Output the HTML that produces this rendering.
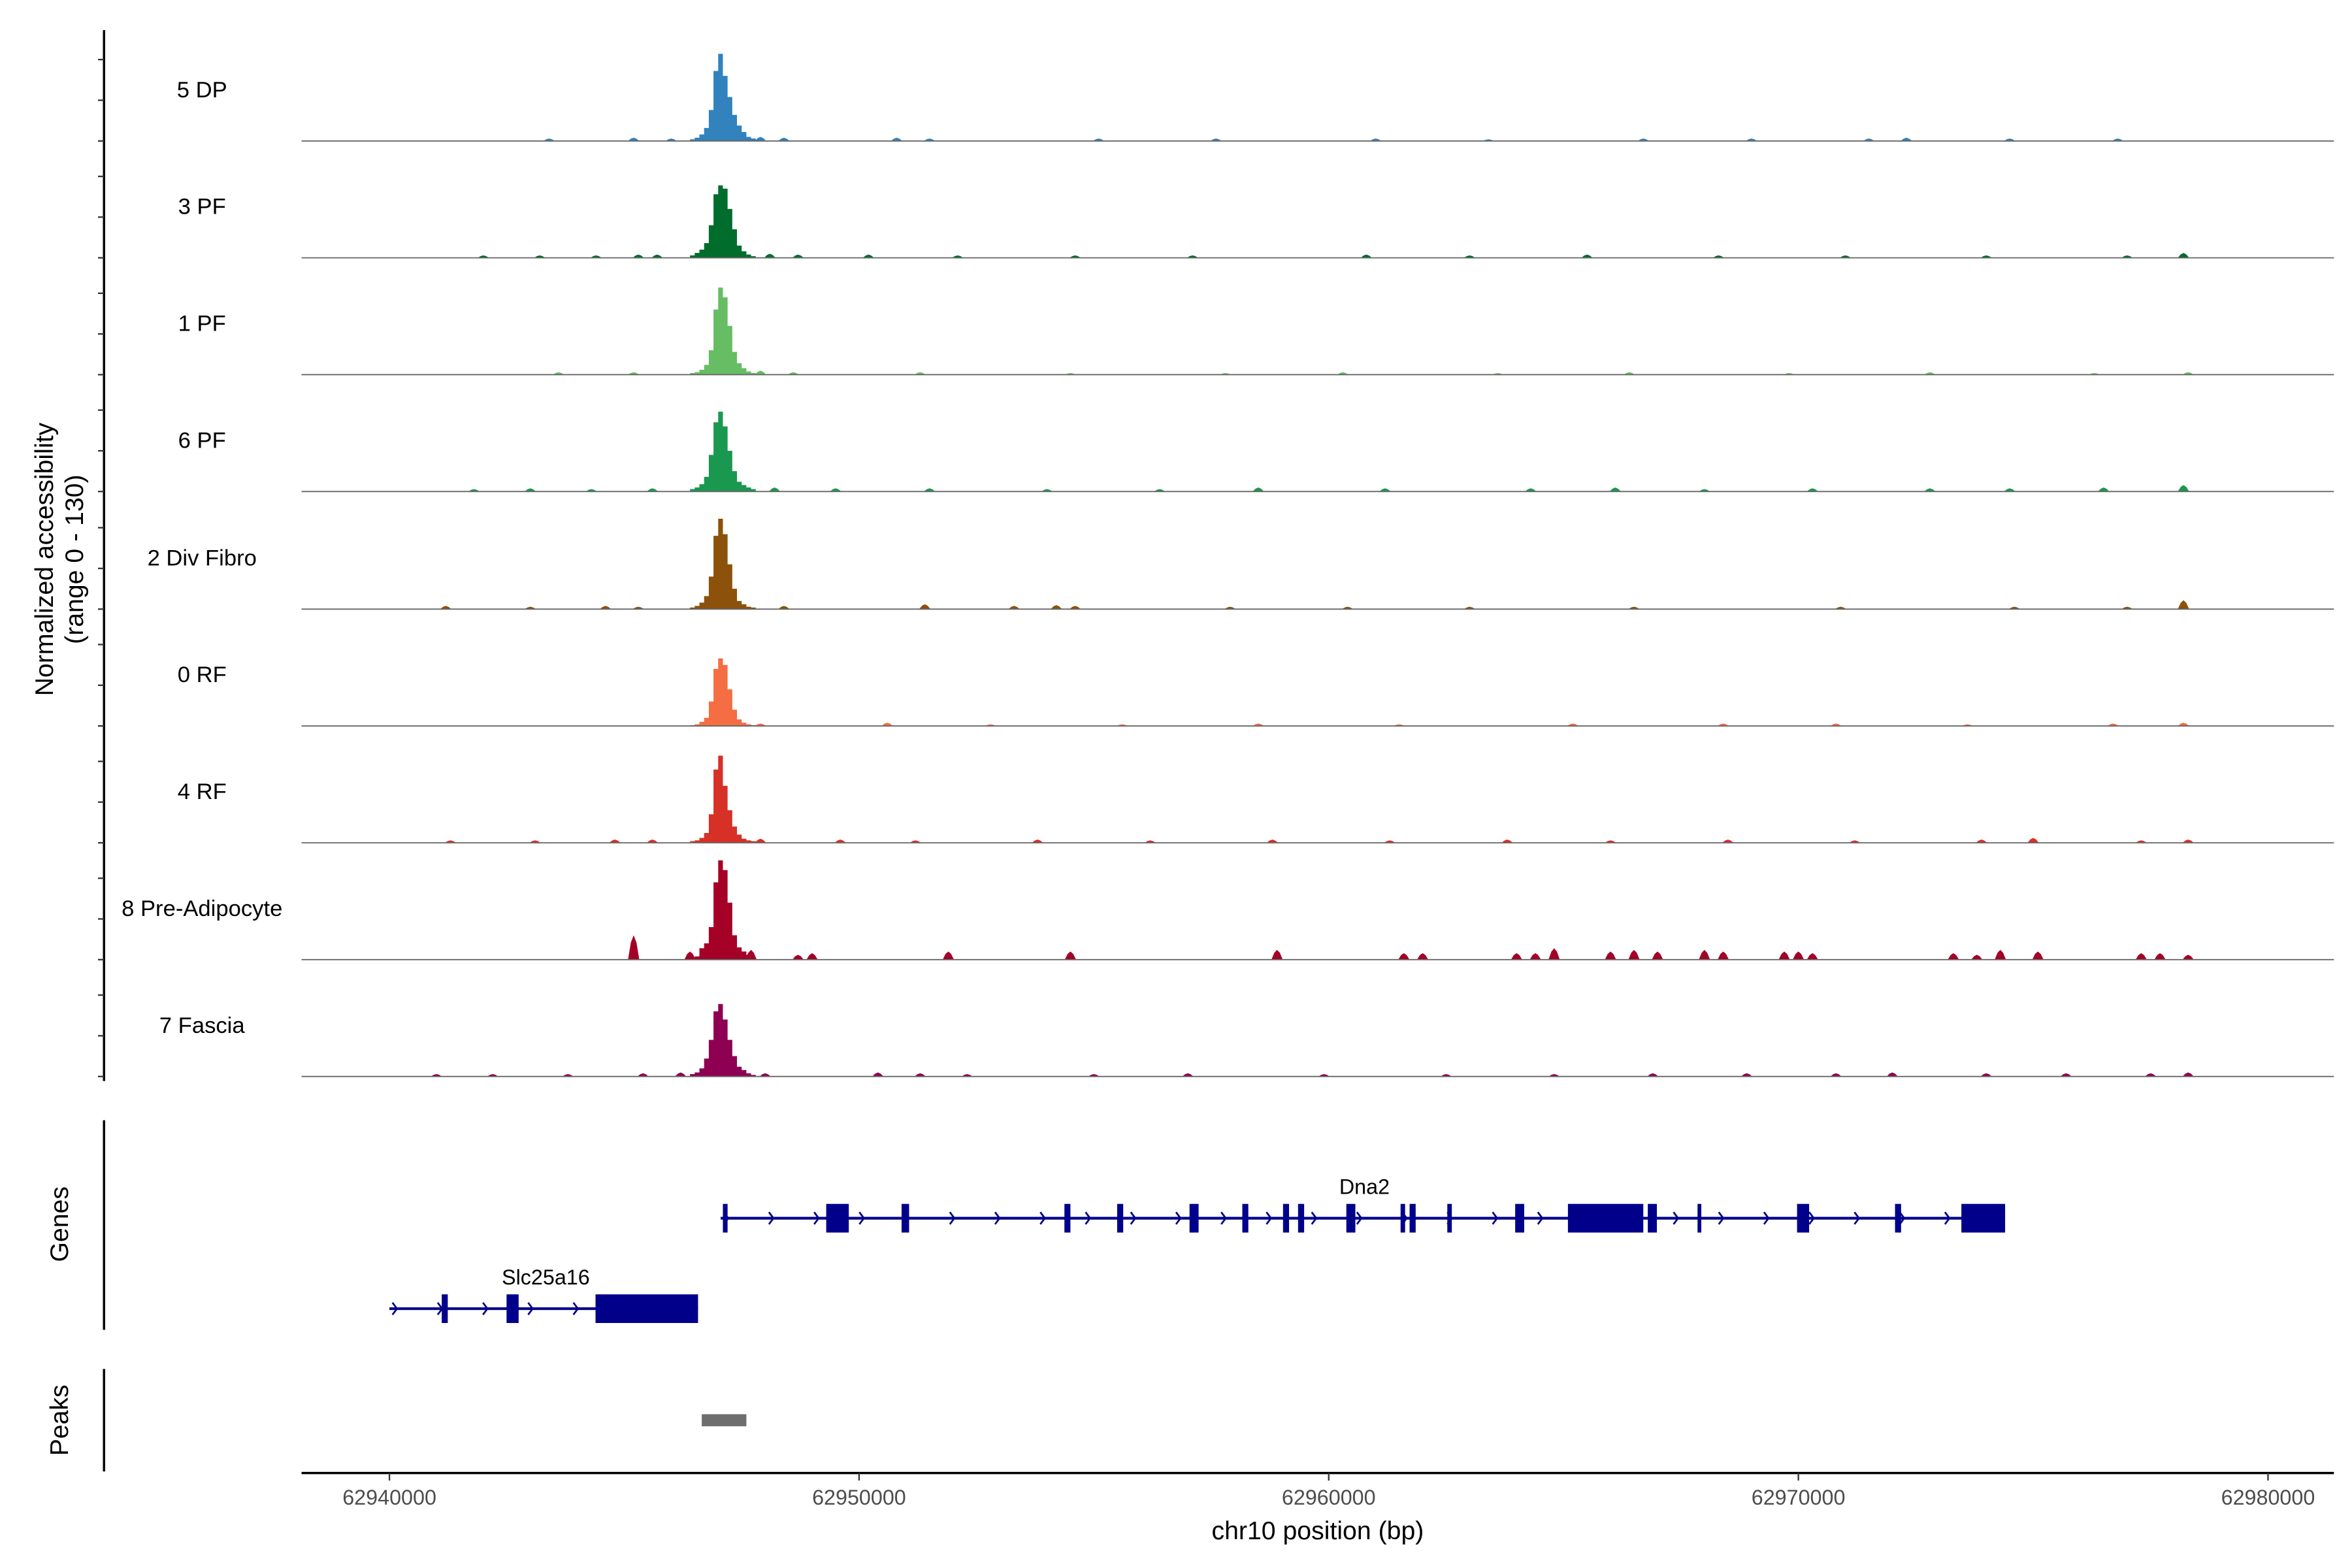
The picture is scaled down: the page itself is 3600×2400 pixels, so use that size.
<!DOCTYPE html>
<html><head><meta charset="utf-8"><style>
html,body{margin:0;padding:0;background:#fff;}
svg{display:block;font-family:"Liberation Sans",sans-serif;}
</style></head><body>
<svg id="chart" width="3600" height="2400" viewBox="0 0 1560 1040" xmlns="http://www.w3.org/2000/svg">
<rect x="0" y="0" width="1560" height="1040" fill="#fff"/>
<text transform="translate(35,371) rotate(-90)" text-anchor="middle" font-size="17">Normalized accessibility</text>
<text transform="translate(55,371) rotate(-90)" text-anchor="middle" font-size="17">(range 0 - 130)</text>
<text transform="translate(45,812) rotate(-90)" text-anchor="middle" font-size="17">Genes</text>
<text transform="translate(45,942) rotate(-90)" text-anchor="middle" font-size="17">Peaks</text>
<text x="874" y="1021" text-anchor="middle" font-size="17">chr10 position (bp)</text>
<line x1="69" y1="20" x2="69" y2="717" stroke="#000" stroke-width="1.5"/>
<line x1="69" y1="743" x2="69" y2="882" stroke="#000" stroke-width="1.5"/>
<line x1="69" y1="908" x2="69" y2="976" stroke="#000" stroke-width="1.5"/>
<line x1="200" y1="977" x2="1548" y2="977" stroke="#000" stroke-width="1.5"/>
<g id="g"></g>
</svg>
<script>
const trackNames = ["5 DP","3 PF","1 PF","6 PF","2 Div Fibro","0 RF","4 RF","8 Pre-Adipocyte","7 Fascia"];
const trackColors = ["#3182bd","#006d2c","#66bd63","#1a9850","#8c510a","#f46d43","#d73027","#a50026","#8e0152"];
const peakBins = [62946400,62946500,62946600,62946700,62946800,62946900,62947000,62947100,62947200,62947300,62947400,62947500,62947600,62947700];
const peak5DP = [2,4,8,16,38,86,107,80,54,32,19,11,5,3];
const peak3PF = [3,6,10,18,40,78,89,85,60,35,15,8,4,2];
const peak1PF = [2,3,6,12,30,80,107,95,60,28,14,8,4,2];
const peak6PF = [3,5,9,18,45,85,98,80,50,25,12,8,5,3];
const peak2Div = [2,4,8,16,40,90,111,92,55,25,10,6,3,2];
const peak0RF = [1,2,5,10,30,70,83,75,45,20,8,4,2,1];
const peak4RF = [2,3,6,12,35,90,107,70,40,20,10,5,3,2];
const peak8Pre = [2,4,14,20,40,95,122,110,70,30,15,10,6,3];
const peak7Fas = [3,5,10,22,45,80,89,70,45,25,12,8,4,2];
const bumpPos5DP = [62943400,62945200,62946000,62947900,62948400,62950800,62951500,62955100,62957600,62961000,62963400,62966700,62969000,62971500,62972300,62974500,62976800];
const bumpVal5DP = [3,4,3,5,4,4,3,3,3,3,2,3,3,3,4,3,3];
const bumpPos3PF = [62942000,62943200,62944400,62945300,62945700,62948100,62948700,62950200,62952100,62954600,62957100,62960800,62963000,62965500,62968300,62971000,62974000,62977000,62978200];
const bumpVal3PF = [3,3,3,4,4,5,4,4,3,3,3,4,3,4,3,3,3,3,6];
const bumpPos1PF = [62943600,62945200,62947900,62948600,62951300,62954500,62957800,62960300,62963600,62966400,62969800,62972800,62976300,62978300];
const bumpVal1PF = [3,3,5,3,3,2,2,3,2,3,2,3,2,3];
const bumpPos6PF = [62941800,62943000,62944300,62945600,62948200,62949500,62951500,62954000,62956400,62958500,62961200,62964300,62966100,62968000,62970300,62972800,62974500,62976500,62978200];
const bumpVal6PF = [3,4,3,4,5,4,4,3,3,5,4,4,5,3,4,4,4,5,8];
const bumpPos2Div = [62941200,62943000,62944600,62945300,62948400,62951400,62953300,62954200,62954600,62957900,62960400,62963000,62966500,62970900,62974600,62977000,62978200];
const bumpVal2Div = [4,3,4,3,4,6,4,5,4,3,3,3,3,3,3,3,11];
const bumpPos0RF = [62947900,62950600,62952800,62955600,62958500,62961500,62965200,62968400,62970800,62973600,62976700,62978200];
const bumpVal0RF = [3,4,2,2,3,2,3,3,3,2,3,4];
const bumpPos4RF = [62941300,62943100,62944800,62945600,62947900,62949600,62951200,62953800,62956200,62958800,62961300,62963800,62966000,62968500,62971200,62973900,62975000,62977300,62978300];
const bumpVal4RF = [3,3,4,4,5,4,3,4,3,4,3,4,3,4,3,4,6,3,4];
const bumpPos8Pre = [62945200,62946400,62947700,62948700,62949000,62951900,62954500,62958900,62961600,62962000,62964000,62964400,62964800,62966000,62966500,62967000,62968000,62968400,62969700,62970000,62970300,62973300,62973800,62974300,62975100,62977300,62977700,62978300];
const bumpVal8Pre = [30,10,12,6,8,10,10,12,8,8,8,8,14,10,12,10,12,10,10,10,8,8,6,12,10,8,8,6];
const bumpPos7Fas = [62941000,62942200,62943800,62945400,62946200,62948000,62950400,62951300,62952300,62955000,62957000,62959900,62962500,62964800,62966900,62968900,62970800,62972000,62974000,62975700,62977500,62978300];
const bumpVal7Fas = [3,3,3,4,5,4,5,4,3,3,4,3,3,3,4,4,4,5,4,4,4,5];
const geneNames = ["Dna2","Slc25a16"];
const geneStarts = [62947053,62940000];
const geneEnds = [62974402,62946571];
const dna2ExonStarts = [62947100,62949300,62950905,62954372,62955495,62957036,62958160,62959027,62959347,62960375,62961530,62961722,62962525,62963970,62965093,62966794,62967853,62969972,62972058,62973471];
const dna2ExonEnds = [62947200,62949781,62951065,62954500,62955624,62957229,62958288,62959155,62959476,62960567,62961626,62961851,62962621,62964162,62966698,62966987,62967917,62970229,62972187,62974402];
const slcExonStarts = [62941114,62942494,62944388];
const slcExonEnds = [62941242,62942751,62946571];
const peakRegionStart = 62946650;
const peakRegionEnd = 62947600;
const xTicks = [62940000,62950000,62960000,62970000,62980000];
const xTickLabels = ["62940000","62950000","62960000","62970000","62980000"];

const NS = "http://www.w3.org/2000/svg";
const g = document.getElementById("g");
function X(bp){ return 258.3 + (bp - 62940000) * 0.031150; }
const baselines = [93.5,171,248.5,326,404,481.5,559,636.5,714];
const unit = 0.54;
function Y(i, v){ return baselines[i] - v * unit; }
function mk(tag, attrs){ const e = document.createElementNS(NS, tag); for (const k in attrs) e.setAttribute(k, attrs[k]); return e; }

const peaks = [peak5DP,peak3PF,peak1PF,peak6PF,peak2Div,peak0RF,peak4RF,peak8Pre,peak7Fas];
const bumpP = [bumpPos5DP,bumpPos3PF,bumpPos1PF,bumpPos6PF,bumpPos2Div,bumpPos0RF,bumpPos4RF,bumpPos8Pre,bumpPos7Fas];
const bumpV = [bumpVal5DP,bumpVal3PF,bumpVal1PF,bumpVal6PF,bumpVal2Div,bumpVal0RF,bumpVal4RF,bumpVal8Pre,bumpVal7Fas];

for (let i = 0; i < trackNames.length; i++) {
  const b = baselines[i];
  [0,50,100].forEach(t => {
    const tk = mk("line",{x1:65,x2:69,y1:Y(i,t),y2:Y(i,t),stroke:"#333","stroke-width":1});
    
    
    g.appendChild(tk);
  });
  const lab = mk("text",{x:134,y:b-29,"text-anchor":"middle","font-size":15});
  lab.textContent = trackNames[i];
  
  
  g.appendChild(lab);
  // peak
  let d = "M" + X(peakBins[0]) + "," + b;
  for (let k = 0; k < peakBins.length; k++) {
    const x0 = X(peakBins[k]), x1 = X(peakBins[k] + 100), y = Y(i, peaks[i][k]);
    d += " L" + x0 + "," + y + " L" + x1 + "," + y;
  }
  d += " L" + X(peakBins[peakBins.length-1] + 100) + "," + b + " Z";
  const pk = mk("path",{d:d,fill:trackColors[i]});
  
  
  g.appendChild(pk);
  for (let k = 0; k < bumpP[i].length; k++) {
    const p = bumpP[i][k], v = bumpV[i][k];
    const bd = "M" + X(p - 120) + "," + b + " L" + X(p - 60) + "," + Y(i, v*0.7) + " L" + X(p) + "," + Y(i, v) + " L" + X(p + 60) + "," + Y(i, v*0.7) + " L" + X(p + 120) + "," + b + " Z";
    const bm = mk("path",{d:bd,fill:trackColors[i]});
    
    
    g.appendChild(bm);
  }
  const bl = mk("line",{x1:200,x2:1548,y1:b,y2:b,stroke:"#666","stroke-width":0.8});
  
  
  g.appendChild(bl);
}

// genes
const geneY = [808, 868];
const exS = [dna2ExonStarts, slcExonStarts], exE = [dna2ExonEnds, slcExonEnds];
const labelX = [905, 362];
for (let j = 0; j < geneNames.length; j++) {
  const y = geneY[j];
  const ln = mk("line",{x1:X(geneStarts[j]),x2:X(geneEnds[j]),y1:y,y2:y,stroke:"#00008B","stroke-width":1.8});
  
  
  g.appendChild(ln);
  for (let x = X(geneStarts[j]) + 2; x < X(geneEnds[j]) - 4; x += 30) {
    const ch = mk("path",{d:"M"+x+","+(y-4)+" L"+(x+3)+","+y+" L"+x+","+(y+4),fill:"none",stroke:"#00008B","stroke-width":1.2});
    
    
    g.appendChild(ch);
  }
  for (let k = 0; k < exS[j].length; k++) {
    const x0 = X(exS[j][k]), w = Math.max(2.5, X(exE[j][k]) - x0);
    const r = mk("rect",{x:x0,y:y-9.5,width:w,height:19,fill:"#00008B"});
    
    
    g.appendChild(r);
  }
  const t = mk("text",{x:labelX[j],y:y-16,"text-anchor":"middle","font-size":14});
  t.textContent = geneNames[j];
  
  
  g.appendChild(t);
}
// peak region
const pr = mk("rect",{x:X(peakRegionStart),y:938,width:X(peakRegionEnd)-X(peakRegionStart),height:8,fill:"#6e6e6e"});


g.appendChild(pr);
// x ticks
for (let k = 0; k < xTicks.length; k++) {
  const x = X(xTicks[k]);
  const tk = mk("line",{x1:x,x2:x,y1:977,y2:982,stroke:"#333","stroke-width":1});
  
  
  g.appendChild(tk);
  const tl = mk("text",{x:x,y:998,"text-anchor":"middle","font-size":14,fill:"#4d4d4d"});
  tl.textContent = xTickLabels[k];
  
  
  g.appendChild(tl);
}
</script>
</body></html>
